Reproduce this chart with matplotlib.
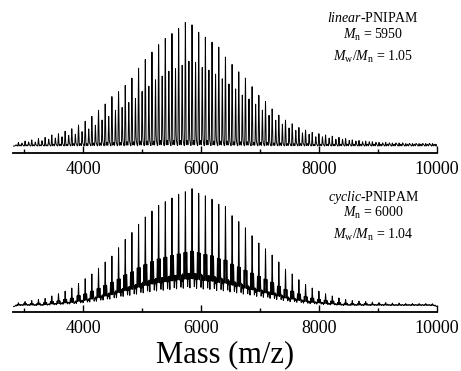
## Масс-спектры MALDI-TOF для линейного и циклического PNIPAM
import numpy as np
import matplotlib.pyplot as plt
from matplotlib.ticker import FixedLocator

plt.rcParams['font.family'] = ['Liberation Serif', 'DejaVu Serif']
plt.rcParams['mathtext.fontset'] = 'custom'
plt.rcParams['mathtext.rm'] = 'Liberation Serif'
plt.rcParams['mathtext.it'] = 'Liberation Serif:italic'

# Положения пиков (m/z), шаг ~113 (звено NIPAM)
peak_masses = [2905, 3018, 3131, 3245, 3358, 3471, 3584, 3697, 3810, 3924,
               4037, 4150, 4263, 4376, 4490, 4603, 4716, 4829, 4942, 5056,
               5169, 5282, 5395, 5508, 5621, 5735, 5848, 5961, 6074, 6187,
               6301, 6414, 6527, 6640, 6753, 6866, 6980, 7093, 7206, 7319,
               7432, 7546, 7659, 7772, 7885, 7998, 8111, 8225, 8338, 8451,
               8564, 8677, 8791, 8904, 9017, 9130, 9243, 9357, 9470, 9583,
               9696, 9809, 9922]

# linear-PNIPAM: основная серия, вторая серия и мелкие пики у базовой линии
linear_main = [0.03, 0.04, 0.05, 0.06, 0.07, 0.09, 0.10, 0.12, 0.14, 0.17,
               0.20, 0.24, 0.29, 0.34, 0.40, 0.44, 0.49, 0.55, 0.63, 0.70,
               0.76, 0.82, 0.87, 0.91, 0.95, 1.00, 0.98, 0.92, 0.88, 0.84,
               0.80, 0.72, 0.66, 0.60, 0.55, 0.48, 0.41, 0.36, 0.30, 0.25,
               0.21, 0.18, 0.15, 0.13, 0.11, 0.10, 0.09, 0.08, 0.07, 0.06,
               0.05, 0.045, 0.04, 0.035, 0.03, 0.03, 0.025, 0.025, 0.02, 0.02,
               0.02, 0.02, 0.02]
linear_second = [0.02, 0.03, 0.03, 0.04, 0.05, 0.06, 0.07, 0.08, 0.09, 0.11,
                 0.13, 0.16, 0.20, 0.23, 0.28, 0.30, 0.34, 0.37, 0.43, 0.47,
                 0.52, 0.55, 0.59, 0.61, 0.64, 0.67, 0.66, 0.62, 0.60, 0.57,
                 0.53, 0.49, 0.45, 0.40, 0.37, 0.33, 0.28, 0.24, 0.20, 0.17,
                 0.14, 0.12, 0.10, 0.09, 0.07, 0.07, 0.06, 0.05, 0.05, 0.04,
                 0.035, 0.03, 0.03, 0.025, 0.02, 0.02, 0.02, 0.02, 0.015, 0.015,
                 0.015, 0.015, 0.015]
linear_third = [0.01, 0.01, 0.01, 0.01, 0.01, 0.015, 0.015, 0.015, 0.02, 0.02,
                0.02, 0.025, 0.025, 0.03, 0.03, 0.03, 0.035, 0.035, 0.04, 0.04,
                0.04, 0.045, 0.045, 0.045, 0.045, 0.045, 0.045, 0.045, 0.045, 0.04,
                0.04, 0.04, 0.035, 0.035, 0.035, 0.03, 0.03, 0.03, 0.025, 0.025,
                0.02, 0.02, 0.02, 0.02, 0.015, 0.015, 0.015, 0.015, 0.015, 0.015,
                0.015, 0.015, 0.015, 0.015, 0.015, 0.015, 0.015, 0.015, 0.015, 0.015,
                0.015, 0.015, 0.015]

# cyclic-PNIPAM: основная серия, сателлиты и подложка
cyclic_main = [0.03, 0.04, 0.05, 0.06, 0.07, 0.09, 0.11, 0.13, 0.16, 0.20,
               0.24, 0.28, 0.33, 0.38, 0.43, 0.50, 0.57, 0.63, 0.70, 0.76,
               0.81, 0.86, 0.89, 0.92, 0.95, 0.97, 1.00, 0.96, 0.94, 0.91,
               0.87, 0.85, 0.77, 0.72, 0.67, 0.60, 0.54, 0.49, 0.44, 0.38,
               0.32, 0.28, 0.23, 0.19, 0.16, 0.13, 0.11, 0.09, 0.075, 0.06,
               0.05, 0.045, 0.04, 0.035, 0.03, 0.03, 0.025, 0.025, 0.02, 0.02,
               0.02, 0.02, 0.02]
cyclic_cluster = [0.015, 0.02, 0.02, 0.025, 0.03, 0.035, 0.04, 0.05, 0.06, 0.08,
                  0.09, 0.11, 0.13, 0.15, 0.17, 0.19, 0.22, 0.24, 0.27, 0.29,
                  0.31, 0.33, 0.34, 0.35, 0.36, 0.37, 0.38, 0.37, 0.36, 0.35,
                  0.33, 0.32, 0.29, 0.27, 0.25, 0.23, 0.21, 0.19, 0.17, 0.14,
                  0.12, 0.11, 0.09, 0.07, 0.06, 0.05, 0.045, 0.04, 0.03, 0.025,
                  0.02, 0.02, 0.02, 0.015, 0.015, 0.015, 0.01, 0.01, 0.01, 0.01,
                  0.01, 0.01, 0.01]
cyclic_small = [0.01, 0.01, 0.01, 0.01, 0.01, 0.015, 0.015, 0.02, 0.02, 0.03,
                0.03, 0.04, 0.05, 0.06, 0.07, 0.08, 0.09, 0.10, 0.11, 0.12,
                0.13, 0.14, 0.14, 0.15, 0.15, 0.16, 0.16, 0.16, 0.15, 0.15,
                0.14, 0.13, 0.12, 0.11, 0.10, 0.09, 0.08, 0.07, 0.07, 0.06,
                0.05, 0.04, 0.035, 0.03, 0.025, 0.02, 0.02, 0.015, 0.015, 0.01,
                0.01, 0.01, 0.01, 0.01, 0.01, 0.01, 0.01, 0.01, 0.01, 0.01,
                0.01, 0.01, 0.01]
cyclic_hump = [0.01, 0.01, 0.01, 0.01, 0.01, 0.015, 0.015, 0.02, 0.02, 0.025,
               0.03, 0.035, 0.04, 0.05, 0.055, 0.065, 0.075, 0.08, 0.09, 0.10,
               0.105, 0.11, 0.115, 0.12, 0.125, 0.13, 0.13, 0.125, 0.12, 0.12,
               0.11, 0.11, 0.10, 0.095, 0.085, 0.08, 0.07, 0.065, 0.055, 0.05,
               0.04, 0.035, 0.03, 0.025, 0.02, 0.02, 0.015, 0.015, 0.01, 0.01,
               0.01, 0.01, 0.01, 0.01, 0.01, 0.01, 0.01, 0.01, 0.01, 0.01,
               0.01, 0.01, 0.01]

x_min, x_max = 2814, 10000


def spectrum(mz, components):
    # сумма гауссовых пиков: (высоты, сдвиг, ширина)
    y = np.zeros_like(mz)
    for heights, offset, sigma in components:
        for m, h in zip(peak_masses, heights):
            y += h * np.exp(-0.5 * ((mz - m - offset) / sigma) ** 2)
    return y


def style_axis(ax, ylim):
    ax.set_xlim(x_min, x_max)
    ax.set_ylim(*ylim)
    for side in ('left', 'right', 'top'):
        ax.spines[side].set_visible(False)
    ax.spines['bottom'].set_linewidth(1.3)
    ax.set_yticks([])
    ax.xaxis.set_major_locator(FixedLocator([4000, 6000, 8000, 10000]))
    ax.xaxis.set_minor_locator(FixedLocator([3000, 5000, 7000, 9000]))
    ax.tick_params(axis='x', which='major', direction='in', length=5, width=1,
                   labelsize=13, pad=6)
    ax.tick_params(axis='x', which='minor', direction='in', length=3, width=1)
    ax.patch.set_alpha(0)


def main():
    mz = np.arange(x_min, x_max, 1.0)

    fig = plt.figure(figsize=(4.61, 3.71), dpi=100)
    ax1 = fig.add_axes([13 / 461, 1 - 153 / 371, 424 / 461, 138 / 371])
    ax2 = fig.add_axes([13 / 461, 1 - 312 / 371, 424 / 461, 126 / 371])

    # Линейный полимер
    y_lin = spectrum(mz, [(linear_main, 0, 5), (linear_second, 60, 5),
                          (linear_third, -40, 9), (linear_third, 30, 7)])
    ax1.plot(mz, y_lin, color='black', linewidth=0.7)
    style_axis(ax1, (-0.056, 1.06))

    # Циклический полимер
    y_cyc = spectrum(mz, [(cyclic_main, 0, 5), (cyclic_cluster, -22, 5),
                          (cyclic_cluster, 24, 6), (cyclic_small, -48, 5),
                          (cyclic_small, 50, 5), (cyclic_hump, 0, 60)])
    ax2.plot(mz, y_cyc, color='black', linewidth=0.7)
    style_axis(ax2, (-0.05, 1.20))

    # Подписи
    tx = 373 / 461
    fs = 10
    fig.text(tx, 1 - 18 / 371, r'$\it{linear}$-PNIPAM', ha='center', va='center', fontsize=fs)
    fig.text(tx, 1 - 35 / 371, r'$M_\mathrm{n}$ = 5950', ha='center', va='center', fontsize=fs)
    fig.text(tx, 1 - 57 / 371, r'$M_\mathrm{w}/M_\mathrm{n}$ = 1.05', ha='center', va='center', fontsize=fs)
    fig.text(tx, 1 - 197 / 371, r'$\it{cyclic}$-PNIPAM', ha='center', va='center', fontsize=fs)
    fig.text(tx, 1 - 213 / 371, r'$M_\mathrm{n}$ = 6000', ha='center', va='center', fontsize=fs)
    fig.text(tx, 1 - 235 / 371, r'$M_\mathrm{w}/M_\mathrm{n}$ = 1.04', ha='center', va='center', fontsize=fs)

    fig.text(225 / 461, 1 - 355 / 371, 'Mass (m/z)', ha='center', va='center', fontsize=22)

    fig.savefig('out.png', dpi=100)


if __name__ == "__main__":
    main()
